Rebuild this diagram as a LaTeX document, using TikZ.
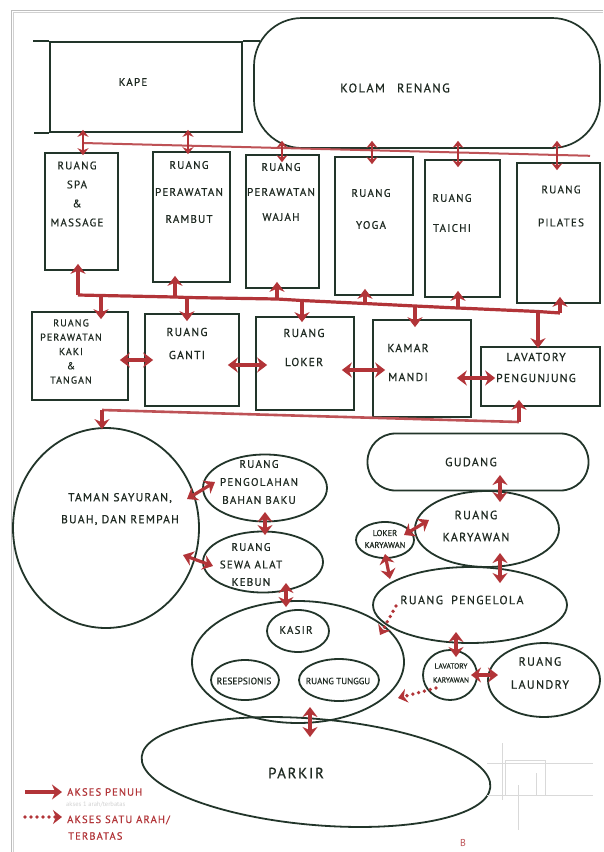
\documentclass[tikz,border=0pt]{standalone}
\usepackage{fontspec}
\setmainfont{PT Sans}
\newfontfamily\hand[LetterSpace=11,FakeBold=0.6]{PT Sans}
\usetikzlibrary{shapes.geometric,arrows.meta,calc}
\definecolor{ink}{HTML}{22352A}
\definecolor{txt}{HTML}{1F2A22}
\definecolor{rd}{HTML}{B23438}
\definecolor{framec}{HTML}{BDBDBD}
\begin{document}
\begin{tikzpicture}[x=1pt,y=-1pt,
  box/.style={draw=ink,line width=1.7pt,rectangle,inner sep=0pt},
  bub/.style={draw=ink,line width=1.8pt,ellipse,inner sep=0pt},
  lab/.style={text=txt,align=center,inner sep=0pt,font=\hand\fontsize{11}{#1}\selectfont},
  lab/.default=13,
  fsz/.style 2 args={font=\hand\fontsize{#1}{#2}\selectfont},
  acc/.style={draw=rd,line width=3.2pt,{Stealth[length=10pt,width=15pt]}-{Stealth[length=10pt,width=15pt]},shorten <=-#1,shorten >=-#1},
  acc/.default=4pt,
  accl/.style={draw=rd,line width=2pt,{Stealth[length=7pt,width=11pt]}-{Stealth[length=7pt,width=11pt]},shorten <=-#1,shorten >=-#1},
  accl/.default=4pt,
  one/.style={draw=rd,line width=3.2pt,-{Stealth[length=10pt,width=15pt]},shorten >=-#1},
  one/.default=4pt,
  bus/.style={draw=rd,line width=3.2pt,line join=round},
  busl/.style={draw=rd!85,line width=2pt},
  dots/.style={draw=rd,line width=3.8pt,line cap=round,dash pattern=on 0pt off 6pt,-{Stealth[length=9pt,width=14pt]}},
  leg/.style={text=rd,inner sep=0pt,anchor=west,font=\hand\fontsize{10.5}{12}\selectfont},
  tiny/.style={text=txt,align=center,inner sep=0pt,font=\addfontfeature{FakeBold=0.5}\fontsize{#1}{14}\selectfont},
]
\useasboundingbox (0,0) rectangle (603,852);
\fill[white] (0,0) rectangle (603,852);
% page frame
\draw[framec,line width=0.6pt] (11,852) -- (11,10) -- (603,10);
\draw[framec!70,line width=0.5pt] (13,852) -- (13,12.5) -- (603,12.5);

% ---------- top ----------
\node[box,minimum width=192pt,minimum height=90pt] (kape) at (146,87) {};
\node[lab] (kapet) at (133,82) {KAPE};
\node[box,rounded corners=48pt,minimum width=346pt,minimum height=130pt] (kolam) at (427,83) {};
\node[lab,fsz={12.5}{15}] (kolamt) at (395,88) {KOLAM\hspace{12pt}RENANG};
\draw[ink,line width=1.7pt] (kape.north west) -- ++(-16,0);
\draw[ink,line width=1.7pt] (kape.south west) -- ++(-15,0);
\draw[ink,line width=1.7pt] (kape.north east) -- ($(kolam.west |- kape.north)+(7,0)$);

% ---------- row 1 ----------
\node[box,minimum width=73pt,minimum height=117pt] (spa) at (81.5,211.5) {};
\node[box,minimum width=77pt,minimum height=130pt] (rambut) at (191.5,217) {};
\node[box,minimum width=73pt,minimum height=133pt] (wajah) at (282.5,221.5) {};
\node[box,minimum width=78pt,minimum height=138pt] (yoga) at (374,226) {};
\node[box,minimum width=75pt,minimum height=137pt] (taichi) at (462.5,228.5) {};
\node[box,minimum width=83pt,minimum height=140pt] (pilates) at (558.5,233) {};
\node[lab=19] (spat) at (77,194) {RUANG\\SPA\\\&\\MASSAGE};
\node[lab=27] (rambutt) at (189,192) {RUANG\\PERAWATAN\\RAMBUT};
\node[lab=25] (wajaht) at (281,192) {RUANG\\PERAWATAN\\WAJAH};
\node[lab=32] (yogat) at (371,209) {RUANG\\YOGA};
\node[lab=30] (taichit) at (452,213) {RUANG\\TAICHI};
\node[lab=33] (pilatest) at (561,206) {RUANG\\PILATES};

% upper access line
\coordinate (u1) at (83,143);
\coordinate (u2) at (188,145.2);
\coordinate (u3) at (282,147.5);
\coordinate (u4) at (372,150);
\coordinate (u5) at (458,152.5);
\coordinate (u6) at (557,155);
\coordinate (u7) at (590,155.8);
\draw[busl] (u1) -- (u7);
\draw[accl=3pt] (u1 |- kape.south) -- (u1 |- spa.north);
\draw[accl=3pt] (u2 |- kape.south) -- (u2 |- rambut.north);
\draw[accl=8pt] (u3 |- kolam.south) -- (u3 |- wajah.north);
\draw[accl=8pt] (u4 |- kolam.south) -- (u4 |- yoga.north);
\draw[accl=8pt] (u5 |- kolam.south) -- (u5 |- taichi.north);
\draw[accl=8pt] (u6 |- kolam.south) -- (u6 |- pilates.north);

% ---------- row 2 ----------
\node[box,minimum width=96pt,minimum height=88pt] (kaki) at (80,356) {};
\node[box,minimum width=94pt,minimum height=92pt] (ganti) at (192,360) {};
\node[box,minimum width=98pt,minimum height=93pt] (loker) at (305,363.5) {};
\node[box,minimum width=98pt,minimum height=97pt] (kamar) at (422,368.5) {};
\node[box,minimum width=119pt,minimum height=59pt] (lav) at (540.5,376.5) {};
\node[lab,fsz={10}{14.3}] (kakit) at (71,351.5) {RUANG\\PERAWATAN\\KAKI\\\&\\TANGAN};
\node[lab,fsz={11.5}{23}] (gantit) at (187,343.5) {RUANG\\GANTI};
\node[lab,fsz={11.5}{29}] (lokert) at (304,347.5) {RUANG\\LOKER};
\node[lab,fsz={11.5}{29}] (kamart) at (408,362.5) {KAMAR\\MANDI};
\node[lab,fsz={11.5}{21}] (lavt) at (536,367.5) {LAVATORY\\PENGUNJUNG};

% lower access line (row1 -> row2)
\coordinate (la1) at (78,295);
\coordinate (lb1) at (101,295.5);
\coordinate (la2) at (175,297);
\coordinate (lb2) at (187,297.5);
\coordinate (la3) at (277,299);
\coordinate (lb3) at (302,300.5);
\coordinate (la4) at (365,303.5);
\coordinate (lb4) at (415,306);
\coordinate (la5) at (458,308);
\coordinate (lb5) at (538,311.5);
\coordinate (la6) at (560,313);
\draw[bus] (la1) -- (lb1) -- (la2) -- (lb2) -- (la3) -- (lb3) -- (la4) -- (lb4) -- (la5) -- (lb5) -- (la6);
\draw[one=7pt] (la1) -- (la1 |- spa.south);
\draw[one=7pt] (la2) -- (la2 |- rambut.south);
\draw[one=7pt] (la3) -- (la3 |- wajah.south);
\draw[one=7pt] (la4) -- (la4 |- yoga.south);
\draw[one=7pt] (la5) -- (la5 |- taichi.south);
\draw[one=7pt] (la6) -- (la6 |- pilates.south);
\draw[one=8pt] (lb1) -- (lb1 |- kaki.north);
\draw[one=8pt] (lb2) -- (lb2 |- ganti.north);
\draw[one=6pt] (lb3) -- (lb3 |- loker.north);
\draw[one=8pt] (lb4) -- (lb4 |- kamar.north);
\draw[one=2pt] (lb5) -- (lb5 |- lav.north);

% horizontal links in row 2
\coordinate (h1) at (0,360);
\coordinate (h2) at (0,365);
\coordinate (h3) at (0,370);
\coordinate (h4) at (0,378);
\draw[acc=9pt] (kaki.east |- h1) -- (ganti.west |- h1);
\draw[acc=12pt] (ganti.east |- h2) -- (loker.west |- h2);
\draw[acc=13pt] (loker.east |- h3) -- (kamar.west |- h3);
\draw[acc=15pt] (kamar.east |- h4) -- (lav.west |- h4);

% ---------- garden cluster ----------
\node[bub,minimum width=186pt,minimum height=200pt] (taman) at (106,528) {};
\node[lab,fsz={11.5}{22}] (tamant) at (120,509) {TAMAN SAYURAN,\\BUAH, DAN REMPAH};
\node[bub,minimum width=124pt,minimum height=67pt] (peng) at (265,488) {};
\node[lab,fsz={11}{18}] (pengt) at (259,482) {RUANG\\PENGOLAHAN\\BAHAN BAKU};
\node[bub,minimum width=120pt,minimum height=61pt] (sewa) at (263,562) {};
\node[lab,fsz={11}{17.5}] (sewat) at (251,564.5) {RUANG\\SEWA ALAT\\KEBUN};

% link row 2 -> garden
\coordinate (w1) at (102,410);
\coordinate (w2) at (519,422);
\draw[busl,line width=2.6pt] (w1) -- (w2);
\draw[one=7pt] (w2) -- (w2 |- lav.south);
\draw[one=2pt] (w1) -- (w1 |- taman.north);

% ---------- staff cluster ----------
\node[draw=ink,line width=1.8pt,rectangle,rounded corners=28pt,minimum width=221pt,minimum height=57pt] (gud) at (478,462) {};
\node[lab,fsz={12}{14}] (gudt) at (471,462) {GUDANG};
\node[bub,minimum width=144pt,minimum height=76pt] (kar) at (487,529) {};
\node[lab,fsz={12}{22}] (kart) at (476,526) {RUANG\\KARYAWAN};
\node[bub,minimum width=58pt,minimum height=36pt] (lokk) at (385,540) {};
\node[tiny=8.5,font=\addfontfeature{FakeBold=0.5}\fontsize{8.5}{12}\selectfont] (lokkt) at (385,539) {LOKER\\KARYAWAN};
\node[bub,minimum width=194pt,minimum height=76pt] (pen) at (470,605) {};
\node[lab,fsz={12}{14}] (pent) at (462,600) {RUANG\hspace{8pt}PENGELOLA};

% ---------- front cluster ----------
\node[bub,minimum width=212pt,minimum height=122pt] (main) at (298,662) {};
\node[bub,minimum width=62pt,minimum height=42pt] (kasir) at (298,631) {};
\node[lab,fsz={11}{13}] (kasirt) at (296,630) {KASIR};
\node[bub,minimum width=68pt,minimum height=40pt] (resep) at (245,680) {};
\node[tiny=9.5] (resept) at (244,681) {RESEPSIONIS};
\node[bub,minimum width=80pt,minimum height=42pt] (tunggu) at (339,680) {};
\node[tiny=9] (tunggut) at (338,681) {RUANG TUNGGU};
\node[bub,minimum width=54pt,minimum height=50pt] (lavk) at (450,675) {};
\node[tiny=7.5] (lavkt) at (451,673) {LAVATORY\\KARYAWAN};
\node[bub,minimum width=112pt,minimum height=74pt] (laun) at (544,680) {};
\node[lab,fsz={12}{23}] (launt) at (540,673) {RUANG\\LAUNDRY};
\node[bub,minimum width=350pt,minimum height=106pt,rotate=-5] (park) at (316,772) {};
\node[lab,fsz={15}{18}] (parkt) at (296,773) {PARKIR};

% ---------- short links ----------
\coordinate (tp1) at (187,499); \coordinate (tp2) at (215,482);
\coordinate (ts1) at (183,555); \coordinate (ts2) at (213,566);
\coordinate (sm1) at (286,583); \coordinate (sm2) at (286,607);
\coordinate (gk1) at (500,475); \coordinate (gk2) at (500,502);
\coordinate (kp1) at (500,553); \coordinate (kp2) at (500,583);
\coordinate (lk1) at (404,535); \coordinate (lk2) at (429,520);
\coordinate (lp1) at (385,554); \coordinate (lp2) at (390,579);
\coordinate (pl1) at (456,632); \coordinate (pl2) at (456,657);
\coordinate (lu1) at (471,675); \coordinate (lu2) at (498,675);
\coordinate (mp1) at (310,707); \coordinate (mp2) at (310,737);
\coordinate (dp1) at (396,606); \coordinate (dp2) at (380,635);
\coordinate (dl1) at (436,688); \coordinate (dl2) at (398,698);
\draw[acc=0pt] (tp1) -- (tp2);
\draw[acc=0pt] (ts1) -- (ts2);
\draw[acc=0pt] (peng.south |- 0,512) -- (peng.south |- 0,535);
\draw[acc=0pt] (sm1) -- (sm2);
\draw[acc=0pt] (gk1) -- (gk2);
\draw[acc=0pt] (kp1) -- (kp2);
\draw[acc=0pt] (lk1) -- (lk2);
\draw[acc=0pt] (lp1) -- (lp2);
\draw[acc=0pt] (pl1) -- (pl2);
\draw[acc=0pt] (lu1) -- (lu2);
\draw[acc=0pt] (mp1) -- (mp2);
\draw[dots] (dp1) -- (dp2);
\draw[dots] (dl1) -- (dl2);

% ---------- legend ----------
\coordinate (lg1) at (25,792); \coordinate (lg2) at (62,792);
\coordinate (lg3) at (25,817); \coordinate (lg4) at (62,817);
\draw[one=0pt] (lg1) -- (lg2);
\draw[dots] (lg3) -- (lg4);
\node[leg] (lgt1) at (67,792) {AKSES PENUH};
\node[anchor=west,inner sep=0pt,text=gray!35,font=\fontsize{6.5}{8}\selectfont] (lgf) at (66,805) {akses 1 arah/terbatas};
\node[leg] (lgt2) at (67,820) {AKSES SATU ARAH/};
\node[leg] (lgt3) at (68,836) {TERBATAS};
\node[text=rd!85,inner sep=0pt,font=\fontsize{10}{11}\selectfont] (bmark) at (463,843) {B};

% faint pencil sketch
\begin{scope}[gray!30,line width=0.5pt]
\draw (487,763) -- (593,763);
\draw (487,795) -- (593,795);
\draw (502,743) -- (502,800);
\draw (518,785) -- (518,830);
\draw (505,760) rectangle (545,795);
\draw (536,773) -- (536,795);
\end{scope}
\end{tikzpicture}
\end{document}
